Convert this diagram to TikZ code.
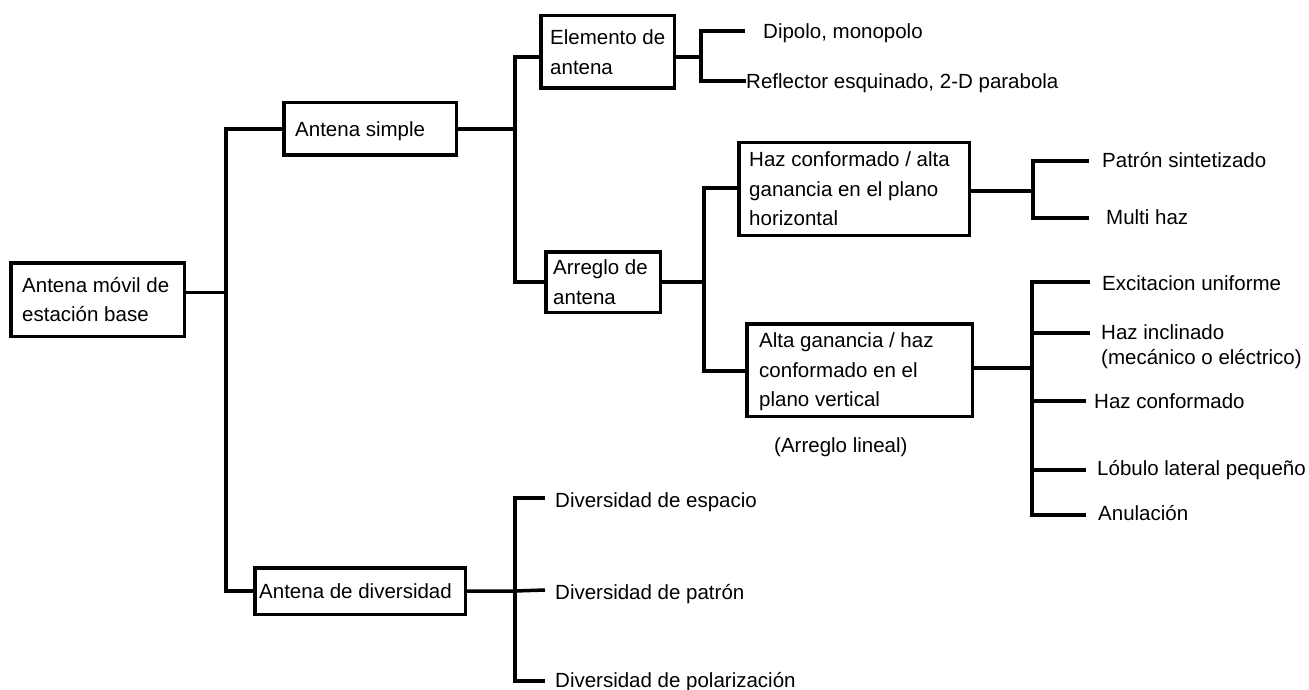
\documentclass[tikz,border=0pt]{standalone}
\usepackage{fontspec}
\setmainfont{Liberation Sans}
\begin{document}
\begin{tikzpicture}[x=1pt,y=-1pt,
  wire/.style={line width=3.5pt, line join=miter},
  boxnode/.style={draw, line width=3.5pt, inner sep=0pt},
  boxtext/.style={anchor=west, align=left, inner sep=0pt, text depth=0pt,
    font=\fontsize{20.5}{29.5}\selectfont},
  leaf/.style={anchor=west, inner sep=0pt, text height=14.7pt, text depth=0pt,
    font=\fontsize{20.5}{25}\selectfont},
  leaftwo/.style={anchor=west, align=left, inner sep=0pt,
    font=\fontsize{20.5}{25}\selectfont},
]
\useasboundingbox (0,0) rectangle (1309,690);

% ---------- boxes ----------
\node[boxnode, minimum width=173.5pt, minimum height=73.5pt] (root) at (97.5,299.5) {};
\node[boxtext] (root-t) at ([xshift=13pt]root.west) {Antena móvil de\\estación base};

\node[boxnode, minimum width=172.5pt, minimum height=52.5pt] (simple) at (370,129) {};
\node[boxtext] (simple-t) at ([xshift=13pt]simple.west) {Antena simple};

\node[boxnode, minimum width=133.5pt, minimum height=72.5pt] (elem) at (607.5,52) {};
\node[boxtext] (elem-t) at ([xshift=11pt]elem.west) {Elemento de\\antena};

\node[boxnode, minimum width=114.5pt, minimum height=60.5pt] (arreglo) at (603,282) {};
\node[boxtext] (arreglo-t) at ([xshift=9pt]arreglo.west) {Arreglo de\\antena};

\node[boxnode, minimum width=230.5pt, minimum height=92.5pt] (haz) at (854,189) {};
\node[boxtext] (haz-t) at ([xshift=12pt]haz.west) {Haz conformado / alta\\ganancia en el plano\\horizontal};

\node[boxnode, minimum width=225.5pt, minimum height=92.5pt] (alta) at (859.5,370) {};
\node[boxtext] (alta-t) at ([xshift=14pt]alta.west) {Alta ganancia / haz\\conformado en el\\plano vertical};

\node[boxnode, minimum width=210.5pt, minimum height=46.5pt] (diver) at (360,591) {};
\node[boxtext] (diver-t) at ([xshift=6pt]diver.west) {Antena de diversidad};

% ---------- leaf labels ----------
\node[leaf] (dip) at (763,31) {Dipolo, monopolo};
\node[leaf] (refl) at (746,81) {Reflector esquinado, 2-D parabola};
\node[leaf] (patr) at (1102,160) {Patrón sintetizado};
\node[leaf] (multi) at (1106,217) {Multi haz};
\node[leaf] (exc) at (1102,283) {Excitacion uniforme};
\node[leaftwo] (incl) at (1101,346.5) {Haz inclinado\\(mecánico o eléctrico)};
\node[leaf] (hconf) at (1094,401) {Haz conformado};
\node[leaf] (lob) at (1097,468) {Lóbulo lateral pequeño};
\node[leaf] (anul) at (1098,513) {Anulación};
\node[leaf] (lineal) at (774,445) {(Arreglo lineal)};
\node[leaf] (desp) at (555,500) {Diversidad de espacio};
\node[leaf] (dpat) at (555,592) {Diversidad de patrón};
\node[leaf] (dpol) at (555,680) {Diversidad de polarización};

% ---------- bus positions ----------
\coordinate (b0) at (226,0);
\coordinate (b1) at (515,0);
\coordinate (b2) at (701,0);
\coordinate (b3) at (704,0);
\coordinate (b4) at (1033,0);
\coordinate (b5) at (1032,0);
\coordinate (b6) at (515,0);

% ---------- root to first level ----------
\coordinate (r0) at ([yshift=7pt]root.east);
\draw[wire] (r0) -- (r0 -| b0);
\draw[wire] (simple.west) -| (b0 |- diver.west) -- (diver.west);

% ---------- Antena simple ----------
\draw[wire] (simple.east) -- (simple.east -| b1);
\coordinate (e0) at ([yshift=-5pt]elem.west);
\draw[wire] (e0) -| (b1 |- arreglo.west) -- (arreglo.west);

% ---------- Elemento de antena ----------
\coordinate (e1) at ([yshift=-5pt]elem.east);
\draw[wire] (e1) -- (e1 -| b2);
\coordinate (dipend) at (745,31);
\draw[wire] (dipend) -| (b2 |- refl.west) -- (refl.west);

% ---------- Arreglo de antena ----------
\draw[wire] (arreglo.east) -- (arreglo.east -| b3);
\coordinate (h0) at ([yshift=1pt]haz.west);
\coordinate (a0) at ([yshift=-1pt]alta.west);
\draw[wire] (h0) -| (b3 |- a0) -- (a0);

% ---------- horizontal plane ----------
\coordinate (h1) at ([yshift=-2pt]haz.east);
\draw[wire] (h1) -- (h1 -| b4);
\coordinate (pend) at (1089,161);
\coordinate (mend) at (1089,218);
\draw[wire] (pend) -| (b4 |- mend) -- (mend);

% ---------- vertical plane ----------
\coordinate (a1) at ([yshift=2pt]alta.east);
\draw[wire] (a1) -- (a1 -| b5);
\coordinate (x1) at (1090,282);
\coordinate (x2) at (1090,333);
\coordinate (x3) at (1086,401);
\coordinate (x4) at (1086,470);
\coordinate (x5) at (1086,515);
\draw[wire] (x1) -| (b5 |- x5) -- (x5);
\draw[wire] (b5 |- x2) -- (x2);
\draw[wire] (b5 |- x3) -- (x3);
\draw[wire] (b5 |- x4) -- (x4);

% ---------- diversity ----------
\coordinate (d1) at (545,498);
\coordinate (d2) at (545,590);
\coordinate (d3) at (545,681);
\draw[wire] (d1) -| (b6 |- d3) -- (d3);
\draw[wire] (diver.east) -- (diver.east -| b6) -- (d2);
\end{tikzpicture}
\end{document}
